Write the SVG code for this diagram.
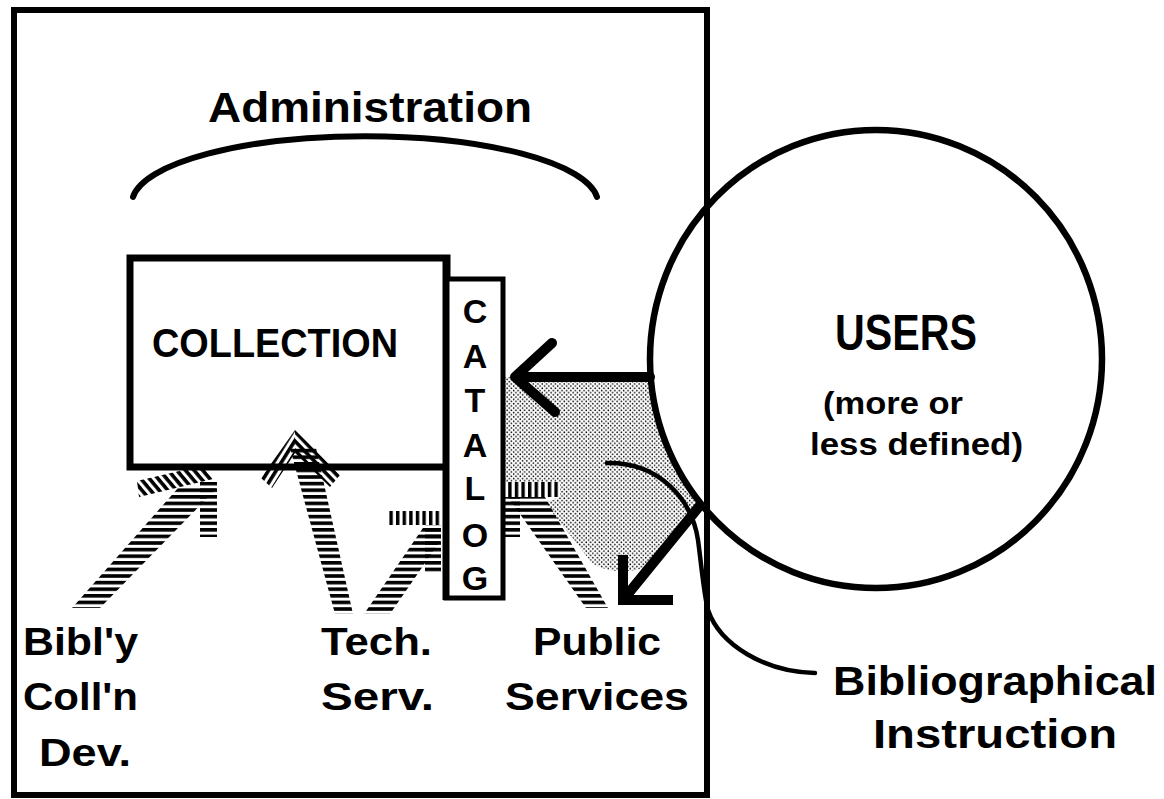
<svg xmlns="http://www.w3.org/2000/svg" width="1164" height="799" viewBox="0 0 1164 799">
<defs>
<style>
.t{font-family:"Liberation Sans","Arial",sans-serif;font-weight:700;fill:#000}
.ln{fill:none;stroke:#000}
</style>
<pattern id="hz" patternUnits="userSpaceOnUse" width="8" height="6.6"><rect width="8" height="3.6" fill="#000"/></pattern>
<pattern id="vt" patternUnits="userSpaceOnUse" width="6.6" height="8"><rect width="3.4" height="8" fill="#000"/></pattern>
<pattern id="dgA" patternUnits="userSpaceOnUse" width="8" height="6.6" patternTransform="rotate(50)"><rect width="8" height="3.6" fill="#000"/></pattern>
<pattern id="dgL" patternUnits="userSpaceOnUse" width="8" height="6.6" patternTransform="rotate(-58)"><rect width="8" height="3.6" fill="#000"/></pattern>
<pattern id="dgR" patternUnits="userSpaceOnUse" width="8" height="6.6" patternTransform="rotate(46)"><rect width="8" height="3.6" fill="#000"/></pattern>
<pattern id="dots" patternUnits="userSpaceOnUse" width="4.4" height="4.4"><circle cx="1.1" cy="1.1" r="0.8" fill="#000"/><circle cx="3.3" cy="3.3" r="0.8" fill="#000"/></pattern>
</defs>
<rect width="1164" height="799" fill="#fff"/>

<g id="frame">
<rect x="14" y="10" width="693" height="785" class="ln" stroke-width="6"/>
</g>

<g id="stipple">
<path d="M505,377 L650,377 A228,228 0 0 0 702,505 L652,566 Q615,578 592,563 L545,503 L560,497 L560,482 L505,482 Z" fill="url(#dots)"/>
</g>

<g id="administration">
<text class="t" x="208" y="122" font-size="42" textLength="324" lengthAdjust="spacingAndGlyphs">Administration</text>
<path class="ln" d="M133,197 A233,67 0 0 1 597,197" stroke-width="6" stroke-linecap="round"/>
</g>

<g id="collection">
<rect x="130" y="258" width="317" height="209" class="ln" stroke-width="7"/>
<text class="t" x="152" y="357" font-size="40" textLength="246" lengthAdjust="spacingAndGlyphs">COLLECTION</text>
</g>

<g id="catalog">
<rect x="446" y="279" width="57" height="319" fill="#fff" stroke="#000" stroke-width="5"/>
<line x1="446" y1="258" x2="446" y2="600" stroke="#000" stroke-width="7"/>
<g class="t" font-size="34" text-anchor="middle">
<text x="475" y="323">C</text>
<text x="475" y="368">A</text>
<text x="475" y="412">T</text>
<text x="475" y="457">A</text>
<text x="475" y="500">L</text>
<text x="475" y="547">O</text>
<text x="475" y="590">G</text>
</g>
</g>

<g id="users">
<ellipse cx="876" cy="359" rx="226" ry="229" class="ln" stroke-width="6.5"/>
<text class="t" x="835" y="350" font-size="50" textLength="142" lengthAdjust="spacingAndGlyphs">USERS</text>
<text class="t" x="823" y="414" font-size="31" textLength="140" lengthAdjust="spacingAndGlyphs">(more or</text>
<text class="t" x="810" y="455" font-size="31" textLength="213" lengthAdjust="spacingAndGlyphs">less defined)</text>
</g>

<g id="connectors">
<!-- Bibl'y Coll'n Dev. arrow -->
<polygon points="178,488 217,488 100,608 72,608" fill="url(#hz)"/>
<rect x="200" y="482" width="17" height="55" fill="url(#hz)"/>
<polygon points="137,481 205,465 213,479 139,497" fill="url(#dgA)"/>
<!-- Tech. Serv. arrow to collection -->
<polygon points="295,430 261,478 272,488 295,453" fill="url(#dgL)"/>
<polygon points="295,430 340,475 330,487 295,453" fill="url(#dgR)"/>
<polygon points="290,448 316,448 353,614 335,614" fill="url(#hz)"/>
<!-- Tech. Serv. arrow to catalog -->
<polygon points="425,525 441,525 441,540 390,614 364,614" fill="url(#hz)"/>
<rect x="425" y="525" width="16" height="47" fill="url(#hz)"/>
<rect x="388" y="511" width="53" height="14" fill="url(#vt)"/>
<!-- Public Services arrow to catalog -->
<polygon points="508,497 545,497 608,608 586,608" fill="url(#hz)"/>
<rect x="505" y="497" width="15" height="40" fill="url(#hz)"/>
<rect x="506" y="482" width="53" height="15" fill="url(#vt)"/>
<!-- Users to catalog -->
<path class="ln" d="M650,377 L515,377 M552,343 L515,377 L555,412" stroke-width="10" stroke-linecap="round" stroke-linejoin="round"/>
<!-- Users to public services -->
<path class="ln" d="M702,503 L623,600 M623,555 L623,600 L673,600" stroke-width="10" stroke-linejoin="miter"/>
<!-- Bibliographical instruction -->
<path class="ln" d="M607,463 C660,462 692,500 698,540 C702,570 704,595 708,610 C720,645 765,672 815,673" stroke-width="4.5" stroke-linecap="round"/>
</g>

<g id="labels">
<text class="t" x="23" y="655" font-size="39" textLength="115" lengthAdjust="spacingAndGlyphs">Bibl'y</text>
<text class="t" x="23" y="710" font-size="39" textLength="115" lengthAdjust="spacingAndGlyphs">Coll'n</text>
<text class="t" x="39" y="766" font-size="39" textLength="92" lengthAdjust="spacingAndGlyphs">Dev.</text>
<text class="t" x="321" y="655" font-size="39" textLength="111" lengthAdjust="spacingAndGlyphs">Tech.</text>
<text class="t" x="321" y="710" font-size="39" textLength="113" lengthAdjust="spacingAndGlyphs">Serv.</text>
<text class="t" x="533" y="655" font-size="39" textLength="128" lengthAdjust="spacingAndGlyphs">Public</text>
<text class="t" x="505" y="710" font-size="39" textLength="184" lengthAdjust="spacingAndGlyphs">Services</text>
<text class="t" x="833" y="695" font-size="41" textLength="324" lengthAdjust="spacingAndGlyphs">Bibliographical</text>
<text class="t" x="873" y="748" font-size="41" textLength="244" lengthAdjust="spacingAndGlyphs">Instruction</text>
</g>
</svg>
